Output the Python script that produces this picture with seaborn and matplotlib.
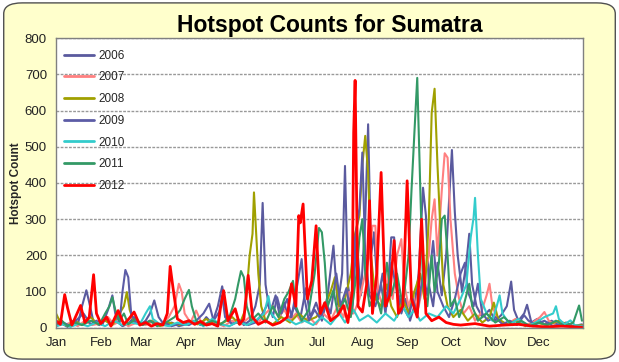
import pandas as pd
import matplotlib.pyplot as plt
import seaborn as sns
from matplotlib.patches import FancyBboxPatch

# Daily hotspot counts: (day of year, count)
hotspots_2006 = [(0,5),(4,12),(8,3),(12,20),(15,8),(18,60),(21,104),(23,70),(26,15),(30,8),(34,25),(38,10),(42,18),(46,5),(50,12),(54,30),(58,8),(62,20),(65,40),(68,76),(71,30),(75,8),(80,15),(85,5),(90,10),(95,20),(100,8),(104,30),(108,12),(112,60),(115,115),(118,40),(122,10),(126,25),(130,8),(134,20),(138,60),(141,120),(143,345),(145,120),(148,40),(152,90),(155,30),(158,70),(161,20),(165,60),(169,25),(173,110),(176,30),(180,70),(184,20),(188,90),(192,227),(195,60),(198,150),(200,447),(202,120),(205,40),(208,250),(211,90),(214,300),(216,562),(218,200),(220,264),(223,80),(226,150),(229,60),(232,250),(234,250),(236,120),(239,40),(242,80),(245,20),(248,60),(251,150),(254,387),(256,310),(258,120),(261,60),(264,180),(267,90),(270,200),(272,350),(274,491),(276,320),(278,200),(281,100),(284,180),(286,260),(288,120),(291,60),(295,30),(300,50),(304,20),(308,35),(312,60),(315,128),(317,50),(320,20),(324,40),(326,64),(329,15),(333,25),(338,10),(343,20),(348,8),(353,15),(358,5),(364,10)]
hotspots_2007 = [(0,10),(3,25),(6,8),(10,15),(15,5),(20,20),(25,8),(30,12),(36,30),(40,10),(45,20),(50,5),(56,15),(62,8),(68,20),(72,5),(78,30),(82,60),(85,122),(87,100),(89,40),(93,15),(97,48),(100,20),(105,8),(110,15),(116,5),(122,20),(128,10),(134,30),(140,15),(145,40),(150,60),(154,30),(158,50),(162,20),(166,40),(170,15),(175,30),(180,10),(185,40),(190,20),(195,60),(199,30),(203,100),(206,40),(210,80),(214,150),(217,200),(219,282),(221,282),(223,100),(226,60),(230,150),(233,80),(236,200),(239,245),(241,120),(244,60),(247,100),(250,40),(254,120),(258,200),(260,300),(262,355),(264,200),(267,380),(269,482),(271,470),(273,300),(276,150),(279,80),(282,40),(286,60),(290,20),(294,40),(298,90),(300,122),(302,60),(306,20),(312,10),(318,25),(324,8),(330,15),(335,30),(338,44),(341,20),(346,8),(352,12),(358,4),(364,5)]
hotspots_2008 = [(0,40),(3,15),(8,5),(13,20),(18,8),(24,30),(29,10),(34,20),(39,8),(44,40),(47,60),(49,99),(51,50),(54,15),(60,10),(66,20),(72,5),(78,15),(85,8),(92,20),(98,10),(104,25),(110,8),(116,15),(122,30),(127,10),(131,50),(134,200),(136,260),(137,374),(138,300),(140,150),(142,60),(145,20),(150,10),(156,30),(162,15),(168,40),(174,20),(180,30),(186,60),(190,100),(193,140),(196,60),(200,80),(204,150),(207,260),(210,310),(212,450),(214,530),(216,429),(218,200),(221,80),(225,60),(229,120),(232,60),(236,30),(240,80),(244,40),(248,100),(252,150),(255,80),(258,300),(260,594),(262,660),(264,450),(266,273),(268,120),(271,60),(275,30),(280,50),(285,20),(290,40),(295,15),(300,30),(303,70),(306,25),(312,10),(318,20),(325,5),(332,15),(340,8),(348,20),(356,5),(364,8)]
hotspots_2009 = [(0,8),(5,15),(10,5),(15,25),(19,40),(24,10),(28,20),(32,8),(36,50),(39,90),(41,40),(44,15),(46,100),(48,160),(50,140),(52,40),(55,15),(60,10),(65,20),(70,8),(75,15),(80,5),(86,12),(92,8),(97,20),(102,40),(106,67),(109,20),(113,45),(115,90),(117,30),(122,10),(128,20),(133,8),(138,15),(143,40),(147,70),(150,30),(153,85),(156,40),(160,80),(163,30),(167,120),(170,190),(172,80),(175,20),(179,50),(183,25),(187,70),(190,40),(194,150),(197,60),(201,110),(204,40),(207,250),(210,330),(212,484),(214,200),(217,90),(221,60),(225,120),(228,40),(232,180),(236,100),(240,60),(244,30),(247,80),(250,40),(254,150),(257,90),(261,240),(264,100),(268,60),(272,30),(276,80),(280,150),(283,180),(285,100),(289,60),(292,122),(295,40),(299,20),(304,30),(309,10),(314,20),(319,8),(324,35),(327,20),(332,10),(338,20),(344,5),(350,12),(356,4),(364,6)]
hotspots_2010 = [(0,5),(5,10),(10,3),(16,12),(22,5),(28,15),(34,5),(40,20),(46,8),(52,15),(58,10),(62,40),(65,60),(67,25),(72,10),(78,5),(84,15),(90,8),(96,20),(102,5),(108,25),(114,10),(120,5),(126,18),(132,8),(138,20),(144,40),(147,88),(149,40),(154,15),(160,25),(166,10),(172,20),(178,8),(184,30),(190,10),(196,40),(200,15),(206,50),(210,20),(216,35),(222,15),(228,40),(234,20),(240,60),(244,30),(248,50),(252,20),(258,40),(264,30),(270,60),(275,40),(280,80),(284,120),(287,250),(289,305),(290,359),(292,200),(294,80),(298,40),(302,20),(305,60),(307,90),(309,40),(314,10),(320,25),(326,5),(332,15),(338,30),(344,40),(346,60),(348,25),(352,10),(356,21),(359,8),(364,5)]
hotspots_2011 = [(0,10),(4,20),(8,5),(13,15),(18,8),(24,20),(30,10),(34,40),(37,60),(39,85),(41,50),(44,20),(47,40),(50,10),(55,25),(60,8),(65,20),(70,5),(76,15),(82,30),(86,50),(89,80),(92,105),(94,60),(97,20),(102,8),(108,20),(114,10),(120,30),(124,80),(126,120),(128,157),(130,140),(132,60),(135,20),(140,40),(145,15),(150,60),(154,30),(158,80),(161,100),(164,130),(166,60),(170,20),(175,50),(179,150),(182,276),(184,264),(186,180),(188,60),(192,104),(195,40),(200,80),(204,30),(208,150),(210,250),(212,300),(214,150),(217,60),(221,100),(225,40),(229,180),(232,90),(236,150),(240,60),(244,200),(246,378),(248,536),(250,690),(252,400),(254,120),(257,60),(260,200),(262,100),(265,180),(267,300),(269,310),(271,200),(273,60),(276,80),(279,30),(282,60),(286,122),(288,60),(292,20),(298,40),(304,15),(310,30),(316,8),(322,20),(328,5),(334,15),(340,8),(346,20),(352,5),(358,15),(362,62),(364,20)]
hotspots_2012 = [(0,20),(3,10),(6,92),(8,55),(11,8),(14,35),(17,62),(20,15),(23,30),(26,147),(28,40),(31,12),(35,30),(38,5),(43,48),(47,10),(51,28),(54,44),(58,8),(62,15),(66,5),(70,12),(74,8),(77,40),(79,170),(81,110),(84,25),(88,15),(92,20),(96,10),(100,18),(104,8),(108,12),(112,5),(114,60),(116,103),(119,20),(124,53),(127,10),(130,25),(133,145),(136,30),(140,10),(145,20),(150,8),(155,15),(160,30),(163,122),(166,60),(168,310),(169,290),(171,342),(174,80),(177,130),(180,282),(183,40),(186,70),(190,20),(195,35),(199,62),(202,15),(205,100),(206,539),(207,683),(209,60),(212,44),(215,120),(217,351),(219,40),(222,150),(225,429),(228,60),(231,90),(234,241),(237,40),(240,60),(243,406),(246,80),(250,30),(253,300),(256,40),(260,20),(265,30),(270,15),(275,10),(280,8),(290,12),(300,5),(310,8),(320,10),(330,5),(340,3),(350,5),(364,2)]

years = ["2006", "2007", "2008", "2009", "2010", "2011", "2012"]
colors = ["#5A5A9E", "#FF8080", "#A0A000", "#5C5CA6", "#33CCCC", "#339966", "#FF0000"]
month_starts = [0, 31, 59, 90, 120, 151, 181, 212, 243, 273, 304, 334]
month_labels = ["Jan", "Feb", "Mar", "Apr", "May", "Jun", "Jul", "Aug", "Sep", "Oct", "Nov", "Dec"]

series = [hotspots_2006, hotspots_2007, hotspots_2008, hotspots_2009,
          hotspots_2010, hotspots_2011, hotspots_2012]
rows = []
for yr, pts in zip(years, series):
    for d, c in pts:
        rows.append({"day": d, "count": c, "year": yr})
df = pd.DataFrame(rows)

sns.set_style("white")
plt.rcParams["font.family"] = ["Liberation Sans", "DejaVu Sans"]

fig = plt.figure(figsize=(6.19, 3.62), dpi=100)
fig.patch.set_facecolor("white")
# rounded yellow chart area
bg = FancyBboxPatch((0.006, 0.008), 0.988, 0.984, boxstyle="round,pad=0,rounding_size=0.03",
                    transform=fig.transFigure, facecolor="#FFFFCC", edgecolor="#505050",
                    linewidth=1.0, zorder=-10)
fig.patches.append(bg)

ax = fig.add_axes([0.0905, 0.094, 0.852, 0.801])
ax.set_facecolor("white")

sns.lineplot(data=df, x="day", y="count", hue="year", hue_order=years,
             palette=colors, linewidth=1.5, ax=ax, legend=True)
for line, yr in zip(ax.lines, years):
    if yr == "2012":
        line.set_linewidth(2.0)

ax.set_xlim(0, 365)
ax.set_ylim(0, 800)
ax.set_yticks(range(0, 801, 100))
ax.set_xticks(month_starts)
ax.set_xticklabels(month_labels)
ax.tick_params(axis="both", labelsize=9.5, colors="#222222", length=3, width=0.8,
               direction="out")
ax.tick_params(axis="both", color="#808080")
ax.yaxis.grid(True, color="#999999", linewidth=1.0, linestyle=(0, (2, 1)))
ax.set_axisbelow(True)
for s in ax.spines.values():
    s.set_color("#808080")
    s.set_linewidth(1.0)

ax.set_xlabel("")
ax.set_ylabel("Hotspot Count", fontsize=8.5, fontweight="bold", labelpad=2)

leg = ax.legend(loc="upper left", frameon=False, fontsize=8.5, handlelength=2.6,
                labelspacing=0.82, borderaxespad=0.6, handletextpad=0.35,
                bbox_to_anchor=(-0.008, 1.0))
for h in leg.get_lines():
    h.set_linewidth(2.0)

fig.text(0.533, 0.912, "Hotspot Counts for Sumatra", ha="center", va="baseline",
         fontsize=16.5, fontweight="bold", color="black")

plt.savefig("out.png", dpi=100, facecolor=fig.get_facecolor())
